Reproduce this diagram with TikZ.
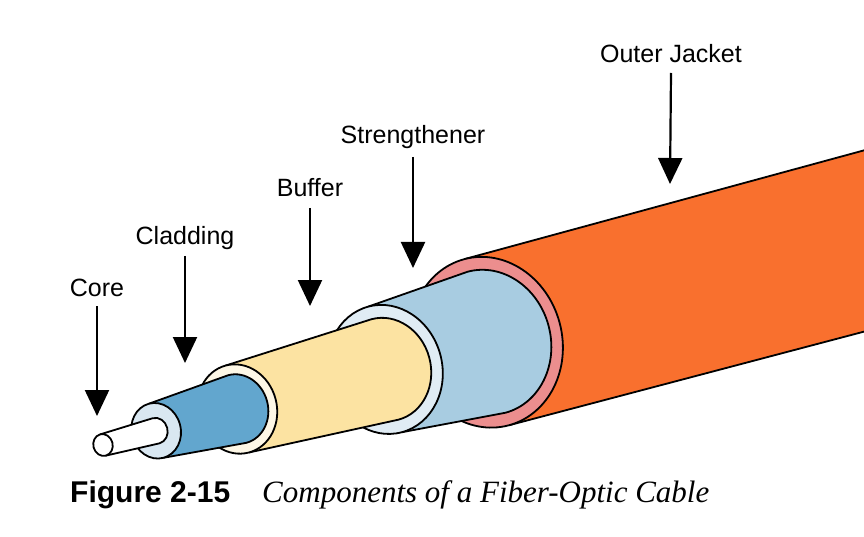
\documentclass[tikz,border=0pt]{standalone}
\usepackage{fontspec}
\setmainfont{Liberation Sans}
\newfontfamily\capserif{Liberation Serif}
\usetikzlibrary{arrows.meta}
\definecolor{jacket}{HTML}{F9702E}
\definecolor{jface}{HTML}{EC8E8E}
\definecolor{streng}{HTML}{A8CCE1}
\definecolor{sface}{HTML}{E0ECF4}
\definecolor{buffer}{HTML}{FCE3A2}
\definecolor{bface}{HTML}{FDF7E6}
\definecolor{clad}{HTML}{62A6CE}
\definecolor{cface}{HTML}{D9E7F1}
\newcommand\cablelayer[5]{% color, s1, r1, s2, r2
  \fill[#1] (#2,#3) -- (#4,#5) -- (#4,-#5) -- (#2,-#3) -- cycle;
  \fill[#1] (#4,0) ellipse[x radius={0.88*#5}, y radius=#5];
  \draw[edge] (#2,#3) -- (#4,#5) arc[start angle=90,end angle=-90,x radius={0.88*#5},y radius=#5] -- (#2,-#3);}
\newcommand\cableface[3]{% color, s, r
  \draw[edge,fill=#1] (#2,0) ellipse[x radius={0.88*#3}, y radius=#3];}
\tikzset{edge/.style={line width=1.8pt,line join=round},
  lab/.style={font=\fontsize{25}{28}\selectfont,inner sep=1pt},
  pointer/.style={line width=2.2pt,-{Triangle[length=26pt,width=24pt]}}}
\begin{document}
\begin{tikzpicture}[x=1pt,y=1pt]
\useasboundingbox (0,0) rectangle (864,-537);
\begin{scope}
\clip (0,0) rectangle (864,-537);
\begin{scope}[shift={(103,-445)},rotate=15]
\cablelayer{jacket}{397}{86}{900}{88}
\cableface{jface}{397}{86}
\cablelayer{streng}{292}{65}{397}{73}
\cableface{sface}{292}{65}
\cablelayer{buffer}{139}{45}{292}{52}
\cableface{bface}{139}{45}
\cablelayer{clad}{55}{28}{139}{35}
\cableface{cface}{55}{28}
\cablelayer{white}{0}{11}{55}{13}
\cableface{white}{0}{11}
\end{scope}
\end{scope}
\node[lab] (core) at (97,-288) {Core};
\node[lab] (cladding) at (185,-238) {Cladding};
\node[lab] (buf) at (310,-188) {Buffer};
\node[lab] (str) at (413,-137) {Strengthener};
\node[lab] (oj) at (671,-54) {Outer Jacket};
\coordinate (core-t) at (97,-416);
\coordinate (clad-t) at (185,-363);
\coordinate (buf-t) at (310,-306);
\coordinate (str-t) at (413,-268);
\coordinate (oj-t) at (670,-184);
\draw[pointer] (core.south |- 0,-306) -- (core-t);
\draw[pointer] (cladding.south |- 0,-256) -- (clad-t);
\draw[pointer] (buf.south |- 0,-208) -- (buf-t);
\draw[pointer] (str.south |- 0,-157) -- (str-t);
\draw[pointer] (oj.south |- 0,-73) -- (oj-t);
\node[anchor=base west,inner sep=0pt,font=\fontsize{30}{33}\selectfont\bfseries] (fig) at (70,-502) {Figure 2-15};
\node[anchor=base west,inner sep=0pt,font=\fontsize{31}{34}\selectfont\capserif\itshape] (cap) at (262,-502) {Components of a Fiber-Optic Cable};
\end{tikzpicture}
\end{document}
